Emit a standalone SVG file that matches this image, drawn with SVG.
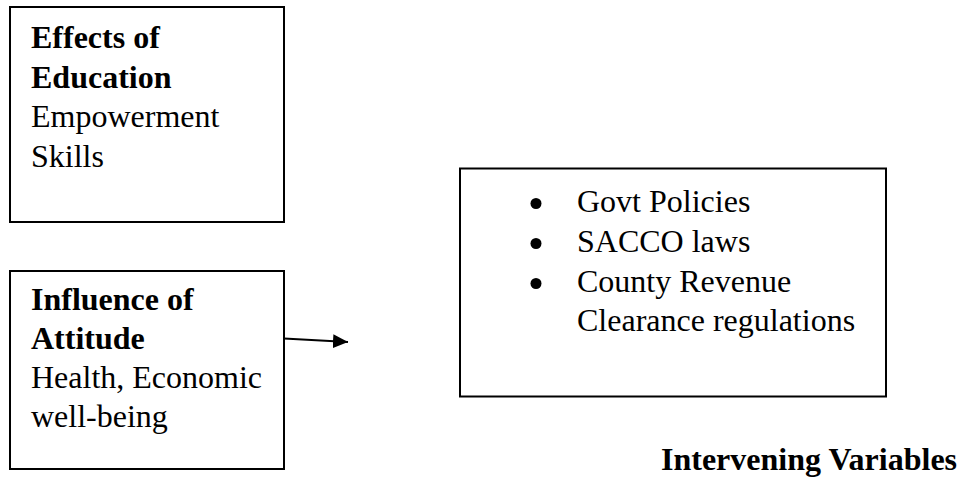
<svg xmlns="http://www.w3.org/2000/svg" width="957" height="479" viewBox="0 0 957 479">
<style>
.box{fill:#ffffff;stroke:#000000;stroke-width:2}
.t{font-family:"Liberation Serif","Times New Roman",serif;font-size:32px;fill:#000000}
.b{font-weight:bold}
.conn{stroke:#000000;stroke-width:2;fill:none}
</style>
<defs>
<marker id="ah" markerWidth="16" markerHeight="14" refX="15" refY="7" orient="auto" markerUnits="userSpaceOnUse">
<polygon points="0,0 15,7 0,14" fill="#000000"/>
</marker>
</defs>
<rect width="957" height="479" fill="#ffffff"/>
<g id="node-education">
<rect class="box" x="10" y="7" width="274" height="215"/>
<text class="t b" x="31" y="48">Effects of</text>
<text class="t b" x="31" y="87.5">Education</text>
<text class="t" x="31" y="127">Empowerment</text>
<text class="t" x="31" y="166.5">Skills</text>
</g>
<g id="node-attitude">
<rect class="box" x="10" y="271" width="274" height="198"/>
<text class="t b" x="31" y="310">Influence of</text>
<text class="t b" x="31" y="349">Attitude</text>
<text class="t" x="31" y="388">Health, Economic</text>
<text class="t" x="31" y="427">well-being</text>
</g>
<g id="node-intervening">
<rect class="box" x="460" y="168.5" width="426" height="228"/>
<circle cx="536" cy="203.5" r="5.5"/>
<circle cx="536" cy="243.5" r="5.5"/>
<circle cx="536" cy="283.5" r="5.5"/>
<text class="t" x="577" y="212">Govt Policies</text>
<text class="t" x="577" y="252">SACCO laws</text>
<text class="t" x="577" y="292">County Revenue</text>
<text class="t" x="577" y="331">Clearance regulations</text>
</g>
<g id="label-intervening">
<text class="t b" x="661" y="470">Intervening Variables</text>
</g>
<g id="connectors">
<line class="conn" x1="284" y1="338.5" x2="348" y2="342" marker-end="url(#ah)"/>
</g>
</svg>
